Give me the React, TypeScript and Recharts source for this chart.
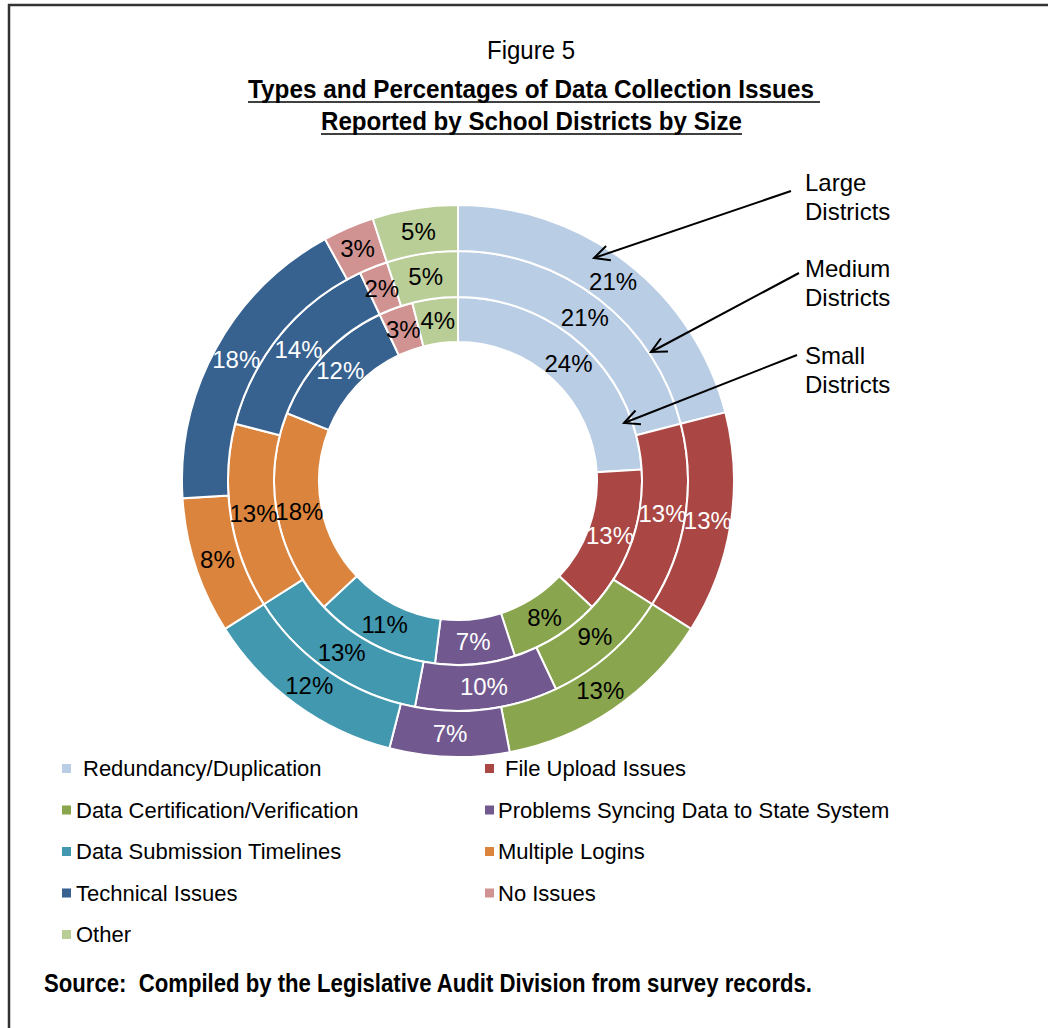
import React from 'react';
import { PieChart, Pie, Cell } from 'recharts';

const categories = [
  'Redundancy/Duplication',
  'File Upload Issues',
  'Data Certification/Verification',
  'Problems Syncing Data to State System',
  'Data Submission Timelines',
  'Multiple Logins',
  'Technical Issues',
  'No Issues',
  'Other',
];
const smallDistricts = [24, 13, 8, 7, 11, 18, 12, 3, 4];
const mediumDistricts = [21, 13, 9, 10, 13, 13, 14, 2, 5];
const largeDistricts = [21, 13, 13, 7, 12, 8, 18, 3, 5];
const colors = ['#B9CDE5', '#AA4643', '#89A54E', '#71588F', '#4198AF', '#DB843D', '#37618F', '#D19392', '#B9CD96'];
const labelColors = ['#000', '#fff', '#000', '#fff', '#000', '#000', '#fff', '#000', '#000'];
const ringNames = ['Large', 'Medium', 'Small'];

const data = categories.map((name, i) => ({
  name,
  small: smallDistricts[i],
  medium: mediumDistricts[i],
  large: largeDistricts[i],
}));

const RAD = Math.PI / 180;
const SANS = '"Liberation Sans", Arial, sans-serif';
const NARROW = '"Liberation Sans Narrow", "Arial Narrow", "Liberation Sans", sans-serif';

const renderLabel = (props: any) => {
  const { cx, cy, midAngle, innerRadius, outerRadius, value, index } = props;
  const r = (innerRadius + outerRadius) / 2;
  const x = cx + r * Math.cos(-midAngle * RAD);
  const y = cy + r * Math.sin(-midAngle * RAD);
  return (
    <text x={x} y={y} fill={labelColors[index]} textAnchor="middle" dominantBaseline="central"
      fontSize={24} fontFamily={SANS}>
      {value}%
    </text>
  );
};

// open arrow head at (x2, y2)
const Arrow = ({ x1, y1, x2, y2 }: { x1: number; y1: number; x2: number; y2: number }) => {
  const a = Math.atan2(y1 - y2, x1 - x2);
  const len = 17;
  const spread = 26 * RAD;
  const w1 = [x2 + len * Math.cos(a + spread), y2 + len * Math.sin(a + spread)];
  const w2 = [x2 + len * Math.cos(a - spread), y2 + len * Math.sin(a - spread)];
  return (
    <g stroke="#000" strokeWidth={2} fill="none">
      <line x1={x1} y1={y1} x2={x2} y2={y2} />
      <polyline points={`${w1[0]},${w1[1]} ${x2},${y2} ${w2[0]},${w2[1]}`} />
    </g>
  );
};

const arrows = [
  { x1: 791, y1: 191, x2: 594, y2: 258, ty: 191 },
  { x1: 799, y1: 273, x2: 651, y2: 352, ty: 277 },
  { x1: 797, y1: 355, x2: 624, y2: 423, ty: 364 },
];

const legendRows = [776, 817.5, 859, 900.5, 942];

export default function App() {
  return (
    <div style={{ position: 'absolute', left: 0, top: 0, width: 1048, height: 1028, background: '#fff' }}>
      <PieChart width={1048} height={1028} margin={{ top: 0, right: 0, bottom: 0, left: 0 }}
        style={{ position: 'absolute', left: 0, top: 0 }}>
        <Pie data={data} dataKey="small" cx={458} cy={481} innerRadius={139} outerRadius={184}
          startAngle={90} endAngle={-270} stroke="#fff" strokeWidth={2}
          label={renderLabel} labelLine={false} isAnimationActive={false}>
          {data.map((d, i) => <Cell key={d.name} fill={colors[i]} />)}
        </Pie>
        <Pie data={data} dataKey="medium" cx={458} cy={481} innerRadius={184} outerRadius={230}
          startAngle={90} endAngle={-270} stroke="#fff" strokeWidth={2}
          label={renderLabel} labelLine={false} isAnimationActive={false}>
          {data.map((d, i) => <Cell key={d.name} fill={colors[i]} />)}
        </Pie>
        <Pie data={data} dataKey="large" cx={458} cy={481} innerRadius={230} outerRadius={276}
          startAngle={90} endAngle={-270} stroke="#fff" strokeWidth={2}
          label={renderLabel} labelLine={false} isAnimationActive={false}>
          {data.map((d, i) => <Cell key={d.name} fill={colors[i]} />)}
        </Pie>
      </PieChart>

      <svg width={1048} height={1028} style={{ position: 'absolute', left: 0, top: 0, pointerEvents: 'none' }}>
        {/* frame */}
        <line x1={8} y1={5} x2={1048} y2={5} stroke="#333" strokeWidth={2.5} />
        <line x1={9} y1={4} x2={9} y2={1028} stroke="#333" strokeWidth={2.5} />

        {/* title */}
        <text x={531} y={59} textAnchor="middle" fontFamily={NARROW} fontSize={25} textLength={88}
          lengthAdjust="spacingAndGlyphs">Figure 5</text>
        <text x={248} y={98} fontFamily={NARROW} fontWeight="bold" fontSize={25} textLength={566}
          lengthAdjust="spacingAndGlyphs">Types and Percentages of Data Collection Issues</text>
        <line x1={248} y1={102} x2={820} y2={102} stroke="#000" strokeWidth={1.5} />
        <text x={321} y={130} fontFamily={NARROW} fontWeight="bold" fontSize={25} textLength={421}
          lengthAdjust="spacingAndGlyphs">Reported by School Districts by Size</text>
        <line x1={321} y1={134} x2={742} y2={134} stroke="#000" strokeWidth={1.5} />

        {/* ring callouts */}
        {arrows.map((a, i) => (
          <g key={ringNames[i]}>
            <Arrow x1={a.x1} y1={a.y1} x2={a.x2} y2={a.y2} />
            <text x={805} y={a.ty} fontFamily={SANS} fontSize={24}>{ringNames[i]}</text>
            <text x={805} y={a.ty + 29} fontFamily={SANS} fontSize={24}>Districts</text>
          </g>
        ))}

        {/* legend */}
        {categories.map((name, i) => {
          const col = i % 2;
          const y = legendRows[Math.floor(i / 2)];
          const mx = col === 0 ? 62 : 485;
          const tx = col === 0 ? (i === 0 ? 83 : 76) : (i === 1 ? 505 : 498);
          return (
            <g key={name}>
              <rect x={mx} y={y - 12} width={9} height={9} fill={colors[i]} />
              <text x={tx} y={y} fontFamily={SANS} fontSize={22}>{name}</text>
            </g>
          );
        })}

        {/* source */}
        <text x={44} y={992} fontFamily={NARROW} fontWeight="bold" fontSize={25} textLength={768}
          lengthAdjust="spacingAndGlyphs" xmlSpace="preserve">Source:  Compiled by the Legislative Audit Division from survey records.</text>
      </svg>
    </div>
  );
}
